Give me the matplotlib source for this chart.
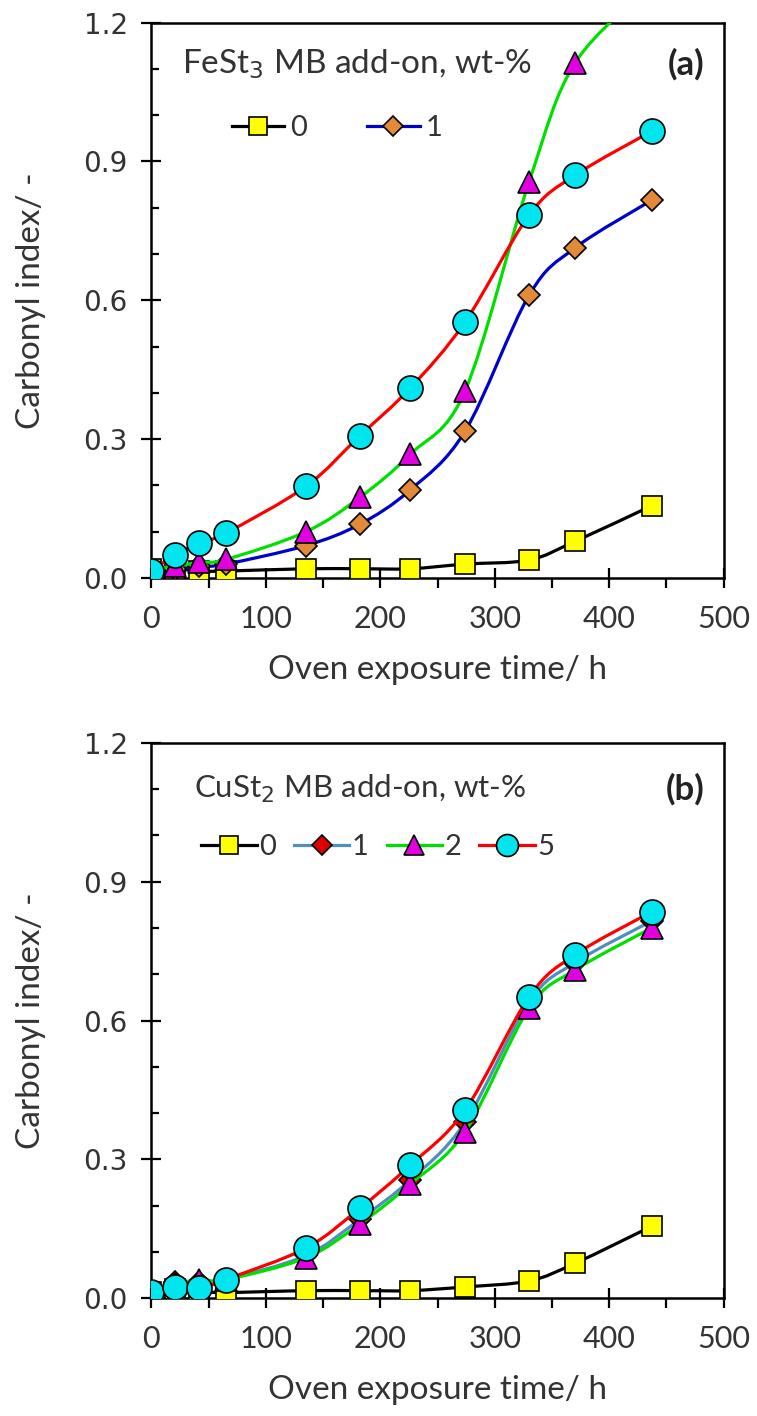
import numpy as np
import matplotlib.pyplot as plt
from matplotlib.path import Path
from matplotlib.patches import PathPatch
from matplotlib.lines import Line2D
from matplotlib.ticker import MultipleLocator

# oven exposure time (h), same for every sample
time_h = [0, 21, 42, 65, 135, 182, 226, 274, 330, 370, 437]

# (a) FeSt3 masterbatch add-on, wt-%
fe_0 = [0.02, 0.02, 0.015, 0.015, 0.02, 0.02, 0.02, 0.03, 0.039, 0.079, 0.156]
fe_1 = [0.02, 0.02, 0.025, 0.03, 0.07, 0.116, 0.19, 0.317, 0.611, 0.713, 0.816]
fe_2 = [0.02, 0.025, 0.034, 0.04, 0.10, 0.174, 0.267, 0.404, 0.856, 1.112, 1.28]
fe_5 = [0.016, 0.05, 0.076, 0.097, 0.198, 0.307, 0.41, 0.553, 0.784, 0.87, 0.965]

# (b) CuSt2 masterbatch add-on, wt-%
cu_0 = [0.012, 0.02, 0.015, 0.012, 0.016, 0.016, 0.016, 0.024, 0.037, 0.075, 0.155]
cu_1 = [0.012, 0.035, 0.035, 0.04, 0.092, 0.17, 0.255, 0.38, 0.64, 0.725, 0.815]
cu_2 = [0.012, 0.03, 0.04, 0.04, 0.087, 0.16, 0.246, 0.36, 0.627, 0.709, 0.80]
cu_5 = [0.012, 0.024, 0.021, 0.04, 0.108, 0.194, 0.287, 0.406, 0.651, 0.742, 0.835]

labels = ["0", "1", "2", "5"]

plt.rcParams['font.family'] = ["Lato", "DejaVu Sans"]
GREY = '#333333'


def smooth_path(x, y):
    # excel-like smoothed line: cubic bezier segments through the points
    pts = np.column_stack([x, y]).astype(float)
    n = len(pts)
    verts = [pts[0]]
    codes = [Path.MOVETO]
    for i in range(n - 1):
        p0 = pts[max(i - 1, 0)]
        p1 = pts[i]
        p2 = pts[i + 1]
        p3 = pts[min(i + 2, n - 1)]
        verts += [p1 + (p2 - p0) / 6, p2 - (p3 - p1) / 6, p2]
        codes += [Path.CURVE4] * 3
    return Path(verts, codes)


def draw_series(ax, y, style, z):
    ax.add_patch(PathPatch(smooth_path(time_h, y), facecolor='none',
                           edgecolor=style['lc'], lw=2.3, zorder=z))
    ax.plot(time_h, y, ls='none', marker=style['m'], ms=style['ms'],
            mfc=style['fc'], mec='black', mew=1.2, zorder=z + 0.5)


def handle(style):
    return Line2D([], [], color=style['lc'], lw=2.3, marker=style['m'],
                  ms=style['ms'] * 0.88, mfc=style['fc'], mec='black', mew=1.2)


styles_a = [
    dict(m='s', ms=15, fc='#ffff00', lc='black'),
    dict(m='D', ms=11, fc='#e3893a', lc='#0000cc'),
    dict(m='^', ms=16, fc='#e000e0', lc='#00e000'),
    dict(m='o', ms=18, fc='#00e5ee', lc='#ff0000'),
]
styles_b = [
    dict(m='s', ms=15, fc='#ffff00', lc='black'),
    dict(m='D', ms=11, fc='#e00000', lc='#4f8fc0'),
    dict(m='^', ms=16, fc='#e000e0', lc='#00e000'),
    dict(m='o', ms=18, fc='#00e5ee', lc='#ff0000'),
]

fig = plt.figure(figsize=(7.57, 14.16), dpi=100)
ax1 = fig.add_axes([0.2, 0.5918, 0.756, 0.3923])
ax2 = fig.add_axes([0.2, 0.0833, 0.756, 0.3920])

for ax, series, styles in [(ax1, [fe_0, fe_1, fe_2, fe_5], styles_a),
                           (ax2, [cu_0, cu_1, cu_2, cu_5], styles_b)]:
    for k, (y, st) in enumerate(zip(series, styles)):
        draw_series(ax, y, st, 3 + k)
    ax.set_xlim(0, 500)
    ax.set_ylim(0, 1.2)
    ax.xaxis.set_major_locator(MultipleLocator(100))
    ax.xaxis.set_minor_locator(MultipleLocator(50))
    ax.yaxis.set_major_locator(MultipleLocator(0.3))
    ax.yaxis.set_minor_locator(MultipleLocator(0.1))
    ax.yaxis.set_major_formatter(plt.FuncFormatter(lambda v, p: f"{v:.1f}"))
    ax.tick_params(axis='x', which='major', direction='inout', length=15, width=1.6,
                   labelsize=22, pad=12, labelcolor=GREY)
    ax.tick_params(axis='x', which='minor', direction='out', length=7, width=1.6)
    ax.tick_params(axis='y', which='major', direction='inout', length=14, width=1.6,
                   labelsize=20, pad=10, labelcolor=GREY)
    ax.tick_params(axis='y', which='minor', direction='in', length=6, width=1.6)
    for lab in ax.get_yticklabels():
        lab.set_fontfamily("DejaVu Sans")
    for sp in ax.spines.values():
        sp.set_linewidth(1.8)
    ax.set_xlabel("Oven exposure time/ h", fontsize=24, labelpad=16, color=GREY)
    ax.text(-0.21, 0.5, "Carbonyl index/ -", transform=ax.transAxes, rotation=90,
            fontsize=24, ha='center', va='center', color=GREY)

ax1.text(0.054, 0.925, r"FeSt$_3$ MB add-on, wt-%", transform=ax1.transAxes,
         fontsize=24, va='center', ha='left', color=GREY)
ax1.text(0.966, 0.925, "(a)", transform=ax1.transAxes, fontsize=25,
         fontweight='bold', va='center', ha='right', color='#222222')
ax1.legend([handle(s) for s in styles_a[:2]], labels[:2], ncol=2, frameon=False,
           fontsize=21, loc='center left', bbox_to_anchor=(0.14, 0.81),
           handlelength=1.8, handletextpad=0.22, columnspacing=2.05, borderpad=0,
           borderaxespad=0, labelcolor=GREY)

ax2.text(0.074, 0.917, r"CuSt$_2$ MB add-on, wt-%", transform=ax2.transAxes,
         fontsize=22.5, va='center', ha='left', color=GREY)
ax2.text(0.966, 0.917, "(b)", transform=ax2.transAxes, fontsize=25,
         fontweight='bold', va='center', ha='right', color='#222222')
ax2.legend([handle(s) for s in styles_b], labels, ncol=4, frameon=False,
           fontsize=21, loc='center left', bbox_to_anchor=(0.087, 0.8125),
           handlelength=1.9, handletextpad=0.08, columnspacing=0.62, borderpad=0,
           borderaxespad=0, labelcolor=GREY)

fig.savefig("out.png", dpi=100)
